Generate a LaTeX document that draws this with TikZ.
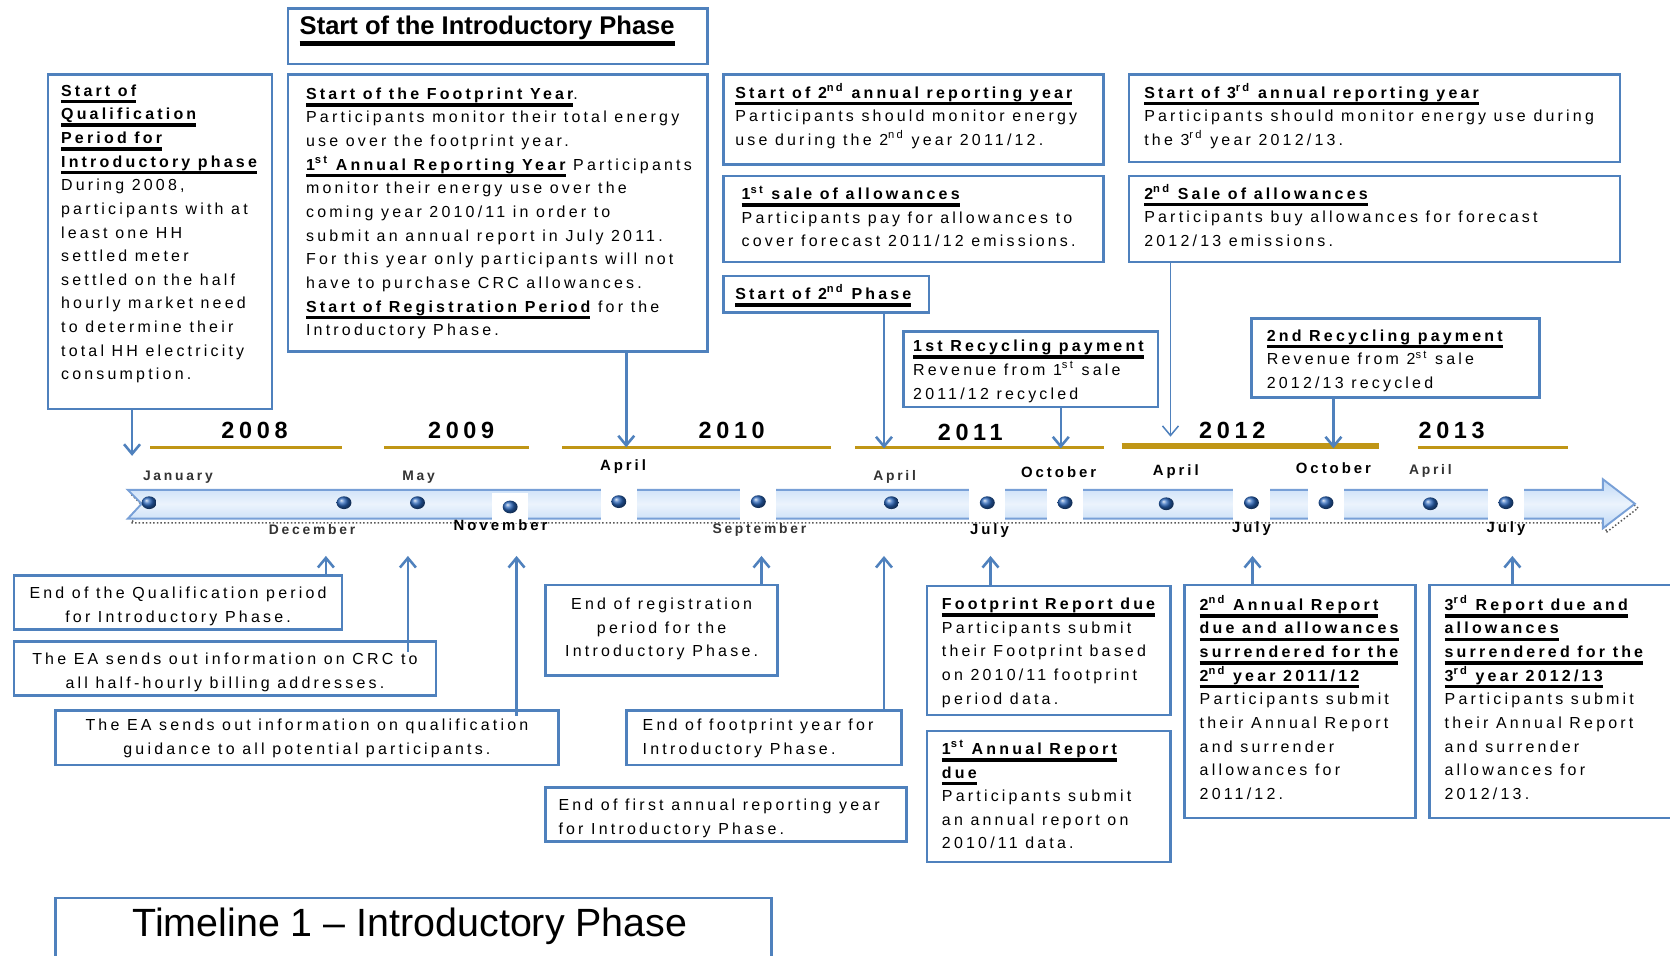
\documentclass[tikz,border=0pt]{standalone}
\usepackage{fontspec}
\setmainfont{Liberation Sans}[LetterSpace=20]
\newfontfamily\plainfont{Liberation Sans}
\usetikzlibrary{arrows.meta, shapes.geometric}
\definecolor{boxblue}{RGB}{79,129,189}
\definecolor{yeargold}{RGB}{192,150,22}
\definecolor{bandblue}{RGB}{190,216,246}
\definecolor{bandedge}{RGB}{120,160,215}
\definecolor{dotblue}{RGB}{40,100,185}
\newsavebox\hdbox
\newcommand{\hd}[1]{\sbox\hdbox{\bfseries #1}\rlap{\rule[-0.45em]{\wd\hdbox}{0.22em}}\usebox\hdbox}
\tikzset{
  box/.style={draw=boxblue, line width=1.2pt, anchor=north west, inner sep=0pt},
  txt/.style={anchor=north west, align=left, inner sep=0pt, font=\fontsize{7.5}{11.1}\selectfont},
  ctxt/.style={anchor=north, align=center, inner sep=0pt, font=\fontsize{7.5}{11.1}\selectfont},
  year/.style={font=\bfseries\fontsize{11}{13}\selectfont},
  month/.style={font=\bfseries\fontsize{7}{8}\selectfont},
  lmonth/.style={font=\bfseries\fontsize{6.5}{8}\selectfont, text=black!80},
  arr/.style={draw=boxblue, line width=1.2pt, -{Straight Barb[length=4.5pt,width=7.5pt]}},
  bullet/.style={ellipse, minimum width=7pt, minimum height=6pt, inner sep=0pt, shade, ball color=dotblue},
  goldline/.style={draw=yeargold, line width=1.3pt}
}

\begin{document}
\begin{tikzpicture}[x=0.5pt, y=-0.5pt]
\useasboundingbox (0,0) rectangle (1568,897);
\clip (0,0) rectangle (1568,897);
\fill[white] (0,0) rectangle (1568,897);

% years
\draw[goldline] (141,420) -- (321,420);
\draw[goldline] (361,420) -- (497,420);
\draw[goldline] (528,420) -- (780,420);
\draw[goldline] (803,420) -- (1037,420);
\draw[yeargold, line width=2.6pt] (1053,419) -- (1295,419);
\draw[goldline] (1331,420) -- (1472,420);
\node[year] (y08) at (239,404) {2008};
\node[year] (y09) at (433,404) {2009};
\node[year] (y10) at (687,404) {2010};
\node[year] (y11) at (911,406) {2011};
\node[year] (y12) at (1157,404) {2012};
\node[year] (y13) at (1363,404) {2013};

% timeline arrow
\draw[black!65, densely dotted, line width=0.7pt, shift={(1.5pt,-2pt)}]
  (120,460) -- (1505,460) -- (1505,450) -- (1535,473) -- (1505,496) -- (1505,487) -- (120,487) -- (133,473) -- cycle;
\draw[bandedge, line width=0.9pt, top color=bandblue, bottom color=bandblue, middle color=bandblue!30]
  (120,460) -- (1505,460) -- (1505,450) -- (1535,473) -- (1505,496) -- (1505,487) -- (120,487) -- (133,473) -- cycle;
\foreach \x in {581,712,927,1000,1175,1245,1414}
  \fill[white] (\x-17,457) rectangle (\x+17,490);
\fill[white] (462,463) rectangle (496,491);
\foreach \x/\y in {140/472,323/472,392/472,479/476,581/471,712/471,837/472,927/472,1000/472,1095/473,1175/472,1245/472,1343/473,1414/472}
  \node[bullet] (dot\x) at (\x,\y) {};

% months
\node[lmonth] (jan08) at (167,448) {January};
\node[lmonth] (may09) at (393,448) {May};
\node[month] (apr10) at (585,438) {April};
\node[lmonth] (apr11) at (840,448) {April};
\node[month] (oct11) at (994,443) {October};
\node[month] (apr12) at (1104,443) {April};
\node[month] (oct12) at (1252,440) {October};
\node[lmonth] (apr13) at (1343,442) {April};
\node[lmonth] (dec08) at (293,497) {December};
\node[month] (nov09) at (470,493) {November};
\node[lmonth] (sep10) at (713,498) {September};
\node[month] (jul11) at (929,498) {July};
\node[month] (jul12) at (1175,496) {July};
\node[month] (jul13) at (1414,496) {July};

% top boxes
\node[box, minimum width=197pt, minimum height=26pt] (intro) at (269,7) {};
\node[txt, font=\plainfont\fontsize{12}{14}\selectfont] (introtxt) at ([shift={(6pt,-4pt)}]intro.north west) {\hd{Start of the Introductory Phase}};

\node[box, minimum width=105pt, minimum height=157pt] (qual) at (44,69) {};
\node[txt] (qualtxt) at ([shift={(6.5pt,-5pt)}]qual.north west) {\hd{Start of}\\ \hd{Qualification}\\ \hd{Period for}\\ \hd{Introductory phase}\\
  During 2008,\\ participants with at\\ least one HH\\ settled meter\\ settled on the half\\ hourly market need\\
  to determine their\\ total HH electricity\\ consumption.};

\node[box, minimum width=197pt, minimum height=130pt] (foot) at (269,69) {};
\node[txt] (foottxt) at ([shift={(9pt,-6.5pt)}]foot.north west) {\hd{Start of the Footprint Year}.\\
  Participants monitor their total energy\\ use over the footprint year.\\
  \hd{1\textsuperscript{st} Annual Reporting Year} Participants\\ monitor their energy use over the\\
  coming year 2010/11 in order to\\ submit an annual report in July 2011.\\
  For this year only participants will not\\ have to purchase CRC allowances.\\
  \hd{Start of Registration Period} for the\\ Introductory Phase.};

\node[box, minimum width=178.5pt, minimum height=42pt] (rep2) at (678,69) {};
\node[txt] (rep2txt) at ([shift={(6pt,-4.5pt)}]rep2.north west) {\hd{Start of 2\textsuperscript{nd} annual reporting year}\\
  Participants should monitor energy\\ use during the 2\textsuperscript{nd} year 2011/12.};

\node[box, minimum width=230.5pt, minimum height=41pt] (rep3) at (1059,69) {};
\node[txt] (rep3txt) at ([shift={(7.5pt,-4.5pt)}]rep3.north west) {\hd{Start of 3\textsuperscript{rd} annual reporting year}\\
  Participants should monitor energy use during\\ the 3\textsuperscript{rd} year 2012/13.};

\node[box, minimum width=178.5pt, minimum height=40.5pt] (sale1) at (678,164) {};
\node[txt] (sale1txt) at ([shift={(9pt,-5pt)}]sale1.north west) {\hd{1\textsuperscript{st} sale of allowances}\\
  Participants pay for allowances to\\ cover forecast 2011/12 emissions.};

\node[box, minimum width=230.5pt, minimum height=40.5pt] (sale2) at (1059,164) {};
\node[txt] (sale2txt) at ([shift={(7.5pt,-4.5pt)}]sale2.north west) {\hd{2\textsuperscript{nd} Sale of allowances}\\
  Participants buy allowances for forecast\\ 2012/13 emissions.};

\node[box, minimum width=96.5pt, minimum height=17pt] (phase2) at (678,258) {};
\node[txt] (phase2txt) at ([shift={(6pt,-4.5pt)}]phase2.north west) {\hd{Start of 2\textsuperscript{nd} Phase}};

\node[box, minimum width=119.5pt, minimum height=35.5pt] (recyc1) at (847,310) {};
\node[txt] (recyc1txt) at ([shift={(5pt,-4.5pt)}]recyc1.north west) {\hd{1st Recycling payment}\\
  Revenue from 1\textsuperscript{st} sale\\ 2011/12 recycled};

\node[box, minimum width=135pt, minimum height=37pt] (recyc2) at (1174,298) {};
\node[txt] (recyc2txt) at ([shift={(7.5pt,-5.5pt)}]recyc2.north west) {\hd{2nd Recycling payment}\\
  Revenue from 2\textsuperscript{st} sale\\ 2012/13 recycled};

% bottom boxes
\node[box, minimum width=154pt, minimum height=25.5pt] (endqual) at (12,539) {};
\node[ctxt] (endqualtxt) at ([yshift=-6pt]endqual.north) {End of the Qualification period\\ for Introductory Phase.};

\node[box, minimum width=198pt, minimum height=25.5pt] (eacrc) at (12,601) {};
\node[ctxt] (eacrctxt) at ([yshift=-6pt]eacrc.north) {The EA sends out information on CRC to\\ all half-hourly billing addresses.};

\node[box, minimum width=236pt, minimum height=25.5pt] (eaqual) at (51,666) {};
\node[ctxt] (eaqualtxt) at ([yshift=-4.5pt]eaqual.north) {The EA sends out information on qualification\\ guidance to all potential participants.};

\node[box, minimum width=109pt, minimum height=42.5pt] (endreg) at (511,548) {};
\node[ctxt] (endregtxt) at ([yshift=-6.5pt]endreg.north) {End of registration\\ period for the\\ Introductory Phase.};

\node[box, minimum width=129pt, minimum height=25.5pt] (endfoot) at (587,666) {};
\node[txt] (endfoottxt) at ([shift={(8pt,-4.5pt)}]endfoot.north west) {End of footprint year for\\ Introductory Phase.};

\node[box, minimum width=169.5pt, minimum height=25.5pt] (endrep1) at (511,738) {};
\node[txt] (endrep1txt) at ([shift={(6.5pt,-6pt)}]endrep1.north west) {End of first annual reporting year\\ for Introductory Phase.};

\node[box, minimum width=114.5pt, minimum height=60.5pt] (footrep) at (869,549) {};
\node[txt] (footreptxt) at ([shift={(7.5pt,-6pt)}]footrep.north west) {\hd{Footprint Report due}\\
  Participants submit\\ their Footprint based\\ on 2010/11 footprint\\ period data.};

\node[box, minimum width=114.5pt, minimum height=61.5pt] (rep1due) at (869,685) {};
\node[txt] (rep1duetxt) at ([shift={(7.5pt,-5pt)}]rep1due.north west) {\hd{1\textsuperscript{st} Annual Report}\\ \hd{due}\\
  Participants submit\\ an annual report on\\ 2010/11 data.};

\node[box, minimum width=108.5pt, minimum height=109.5pt] (rep2due) at (1111,548) {};
\node[txt] (rep2duetxt) at ([shift={(7.5pt,-5.5pt)}]rep2due.north west) {\hd{2\textsuperscript{nd} Annual Report}\\ \hd{due and allowances}\\
  \hd{surrendered for the}\\ \hd{2\textsuperscript{nd} year 2011/12}\\
  Participants submit\\ their Annual Report\\ and surrender\\ allowances for\\ 2011/12.};

\node[box, minimum width=120pt, minimum height=109.5pt] (rep3due) at (1341,548) {};
\node[txt] (rep3duetxt) at ([shift={(7.5pt,-5.5pt)}]rep3due.north west) {\hd{3\textsuperscript{rd} Report due and}\\ \hd{allowances}\\
  \hd{surrendered for the}\\ \hd{3\textsuperscript{rd} year 2012/13}\\
  Participants submit\\ their Annual Report\\ and surrender\\ allowances for\\ 2012/13.};

\node[box, minimum width=336pt, minimum height=35pt] (tlbox) at (51,842) {};
\node[font=\plainfont\fontsize{18.5}{22}\selectfont, inner sep=0pt] (tltxt) at (385,870) {Timeline 1 – Introductory Phase};

% arrow ends on the timeline
\coordinate (t08) at (124,428);
\coordinate (t10) at (588,420);
\coordinate (t11a) at (830,421);
\coordinate (t11b) at (996,421);
\coordinate (t12a) at (1099,410);
\coordinate (t12b) at (1252,421);
\coordinate (u1) at (306,522);
\coordinate (u2) at (383,522);
\coordinate (u3) at (485,522);
\coordinate (u4) at (715,522);
\coordinate (u5) at (830,522);
\coordinate (u6) at (930,522);
\coordinate (u7) at (1176,522);
\coordinate (u8) at (1420,522);

% arrows
\draw[arr] (qual.south -| t08) -- (t08);
\draw[arr] (foot.south -| t10) -- (t10);
\draw[arr] (phase2.south -| t11a) -- (t11a);
\draw[arr] (recyc1.south -| t11b) -- (t11b);
\draw[arr, line width=0.7pt] (sale2.south -| t12a) -- (t12a);
\draw[arr] (recyc2.south -| t12b) -- (t12b);
\draw[arr] (endqual.north -| u1) -- (u1);
\draw[arr] ([yshift=-5.5pt]eacrc.north -| u2) -- (u2);
\draw[arr] ([yshift=-3pt]eaqual.north -| u3) -- (u3);
\draw[arr] (endreg.north -| u4) -- (u4);
\draw[arr] (endfoot.north -| u5) -- (u5);
\draw[arr] (footrep.north -| u6) -- (u6);
\draw[arr] (rep2due.north -| u7) -- (u7);
\draw[arr] (rep3due.north -| u8) -- (u8);

\end{tikzpicture}
\end{document}
